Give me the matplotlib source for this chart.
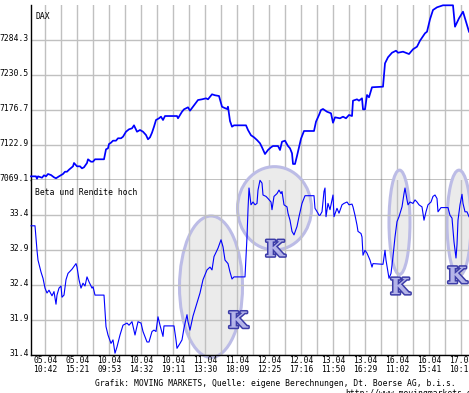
import matplotlib
matplotlib.use("Agg")
import matplotlib.pyplot as plt
import matplotlib.patheffects as pe
from matplotlib.patches import Ellipse
from matplotlib.transforms import ScaledTranslation

# time index (one step per sample) and DAX level
dax_t = [0, 5, 6, 7, 11, 13, 15, 17, 20, 23, 25, 28, 32, 34, 36, 38, 42, 43, 46, 49,
         51, 53, 56, 57, 60, 62, 64, 73, 75, 77, 78, 80, 82, 85, 87, 90, 92, 95, 98, 101,
         103, 106, 109, 112, 115, 117, 119, 121, 123, 125, 128, 130, 132, 134, 146, 147,
         151, 153, 157, 159, 162, 167, 171, 175, 177, 181, 184, 188, 191, 193, 196, 197,
         199, 201, 203, 215, 217, 220, 223, 226, 229, 231, 234, 237, 240, 242, 247, 249,
         251, 254, 257, 259, 261, 262, 264, 266, 268, 270, 273, 283, 285, 287, 288, 290,
         292, 296, 300, 302, 304, 309, 312, 315, 318, 321, 322, 326, 328, 331, 332, 334,
         336, 338, 341, 352, 354, 357, 361, 365, 367, 372, 378, 382, 386, 389, 394, 396,
         399, 402, 406, 412, 422, 424, 428, 432, 433, 438]
dax_v = [7075.2, 7075.2, 7071.6, 7075.2, 7073.1, 7076.8, 7075.2, 7078.8, 7077.2, 7073.7,
         7072.2, 7075.2, 7078.8, 7082.3, 7082.3, 7085.4, 7090.6, 7095.7, 7090.6, 7090.6,
         7087.5, 7089.1, 7095.7, 7101.4, 7097.7, 7097.7, 7101.4, 7101.4, 7116.7, 7118.3,
         7124.9, 7126.9, 7130.0, 7130.0, 7133.7, 7133.7, 7136.1, 7143.8, 7147.5, 7149.0,
         7153.6, 7143.8, 7146.4, 7143.8, 7138.7, 7132.1, 7135.2, 7142.3, 7151.5, 7161.8,
         7164.4, 7166.9, 7161.8, 7167.9, 7167.9, 7164.4, 7174.5, 7178.2, 7181.3, 7176.1,
         7182.2, 7192.5, 7193.6, 7195.1, 7193.6, 7201.3, 7199.8, 7198.7, 7182.2, 7180.7,
         7178.7, 7182.2, 7160.2, 7151.5, 7153.6, 7153.6, 7146.4, 7138.3, 7135.2, 7131.0,
         7126.0, 7119.8, 7109.5, 7115.7, 7119.8, 7121.8, 7121.8, 7115.7, 7128.4, 7130.0,
         7121.8, 7118.3, 7110.6, 7094.2, 7094.2, 7106.5, 7119.8, 7133.0, 7144.9, 7144.9,
         7159.2, 7165.9, 7169.5, 7177.2, 7178.7, 7174.5, 7172.1, 7157.6, 7165.9, 7164.4,
         7166.9, 7164.4, 7169.5, 7167.9, 7191.5, 7193.6, 7191.5, 7195.1, 7178.2, 7178.2,
         7200.2, 7196.7, 7212.1, 7213.0, 7248.9, 7258.2, 7265.2, 7268.3, 7265.2, 7266.8,
         7263.2, 7270.5, 7274.5, 7283.7, 7295.1, 7297.5, 7316.6, 7330.9, 7335.0, 7338.1,
         7338.1, 7305.2, 7318.1, 7328.3, 7323.2, 7297.5]

# Beta und Rendite hoch
beta_t = [0, 4, 6, 7, 10, 12, 14, 16, 18, 21, 23, 25, 26, 28, 30, 31, 33, 35, 37, 41,
          45, 46, 48, 50, 52, 54, 56, 58, 61, 62, 64, 73, 75, 77, 80, 82, 84, 86, 89, 92,
          96, 98, 101, 104, 107, 110, 112, 116, 118, 121, 123, 125, 127, 129, 132, 133,
          143, 145, 146, 149, 151, 153, 156, 157, 159, 162, 166, 169, 172, 176, 179, 181,
          183, 187, 190, 192, 194, 197, 199, 201, 203, 214, 216, 217, 218, 220, 222, 224,
          226, 227, 229, 231, 232, 235, 237, 240, 241, 243, 246, 248, 250, 251, 253, 256,
          257, 259, 261, 263, 266, 268, 271, 274, 283, 284, 287, 288, 289, 291, 293, 294,
          295, 297, 299, 302, 303, 306, 308, 311, 313, 316, 318, 321, 322, 324, 326, 327,
          330, 331, 332, 334, 336, 339, 341, 342, 352, 354, 355, 357, 358, 360, 362, 364,
          366, 368, 371, 373, 374, 376, 377, 379, 382, 384, 386, 388, 391, 393, 395, 397,
          400, 402, 404, 406, 407, 410, 417, 419, 421, 422, 423, 425, 426, 427, 429, 431,
          432, 434, 436, 438]
beta_v = [33.25, 33.25, 32.90, 32.76, 32.59, 32.50, 32.36, 32.29, 32.33, 32.25, 32.31,
          32.13, 32.26, 32.36, 32.39, 32.23, 32.26, 32.48, 32.57, 32.63, 32.71, 32.66,
          32.48, 32.36, 32.43, 32.39, 32.52, 32.45, 32.36, 32.38, 32.26, 32.26, 31.81,
          31.69, 31.57, 31.62, 31.43, 31.52, 31.69, 31.83, 31.86, 31.83, 31.88, 31.69,
          31.88, 31.86, 31.74, 31.59, 31.59, 31.74, 31.76, 31.74, 31.95, 31.83, 31.67,
          31.82, 31.82, 31.62, 31.50, 31.57, 31.62, 31.79, 31.98, 31.88, 31.76, 31.96,
          32.15, 32.29, 32.48, 32.62, 32.66, 32.62, 32.81, 32.93, 33.05, 32.95, 32.76,
          32.71, 32.59, 32.49, 32.52, 32.52, 33.09, 33.48, 33.79, 33.55, 33.59, 33.55,
          33.57, 33.76, 33.90, 33.86, 33.69, 33.67, 33.64, 33.59, 33.48, 33.67, 33.71,
          33.76, 33.71, 33.74, 33.55, 33.52, 33.43, 33.33, 33.17, 33.12, 33.24, 33.38,
          33.57, 33.68, 33.68, 33.50, 33.43, 33.40, 33.40, 33.45, 33.74, 33.79, 33.38,
          33.57, 33.48, 33.69, 33.38, 33.50, 33.43, 33.55, 33.57, 33.59, 33.55, 33.56,
          33.52, 33.40, 33.26, 33.17, 33.14, 33.09, 32.83, 32.90, 32.86, 32.76, 32.66,
          32.71, 32.70, 32.90, 32.76, 32.59, 32.50, 32.57, 32.81, 33.09, 33.31, 33.38,
          33.52, 33.71, 33.79, 33.62, 33.55, 33.59, 33.57, 33.62, 33.59, 33.55, 33.52,
          33.33, 33.45, 33.55, 33.59, 33.67, 33.69, 33.64, 33.45, 33.51, 33.51, 33.40,
          33.36, 33.19, 33.02, 32.79, 32.98, 33.33, 33.55, 33.70, 33.57, 33.45, 33.45,
          33.38]

dax_ticks = [7069.1, 7122.9, 7176.7, 7230.5, 7284.3]
beta_ticks = [31.4, 31.9, 32.4, 32.9, 33.4]
time_labels = ["05.04\n10:42", "05.04\n15:21", "10.04\n09:53", "10.04\n14:32",
               "10.04\n19:11", "11.04\n13:30", "11.04\n18:09", "12.04\n12:25",
               "12.04\n17:16", "13.04\n11:50", "13.04\n16:29", "16.04\n11:02",
               "16.04\n15:41", "17.04\n10:13"]

# "K" marks: centre t, centre value, width, height, letter t, letter value
k_marks = [(180, 32.38, 63, 2.02, 207, 31.88),
           (243.5, 33.50, 74, 1.19, 244, 32.90),
           (368.5, 33.30, 21, 1.49, 369, 32.36),
           (428, 33.29, 24, 1.51, 426, 32.52)]

W, H = 469, 393
fig = plt.figure(figsize=(W / 100, H / 100), dpi=100)
fig.patch.set_facecolor("white")
mono = "DejaVu Sans Mono"
grid_c = "#c0c0c0"

ax1 = fig.add_axes([31 / W, (H - 180.3) / H, 438 / W, 175 / H])
ax2 = fig.add_axes([31 / W, (H - 355.3) / H, 438 / W, 175 / H])

minor = [14.3 + 16 * k for k in range(27)]
major = [14.3 + 32 * k for k in range(14)]

for ax in (ax1, ax2):
    ax.set_xlim(0, 438)
    ax.set_xticks(minor, minor=True)
    ax.set_xticks(major)
    ax.grid(True, which="both", color=grid_c, lw=1.0)
    ax.tick_params(which="both", length=0, pad=1.5, labelsize=5.8)
    ax.spines["top"].set_visible(False)
    ax.spines["right"].set_visible(False)
    for s in ("left", "bottom"):
        ax.spines[s].set_color("black")
        ax.spines[s].set_linewidth(1.0)

ax1.set_ylim(7069.1, 7338.1)
ax1.set_yticks(dax_ticks)
ax1.set_yticklabels(["%.1f" % v for v in dax_ticks], family=mono)
ax1.set_xticklabels([])
ax1.plot(dax_t, dax_v, color="#0000ff", lw=1.25, zorder=3, clip_on=False)
ax1.text(4, 7338.1 - 11.4 / 35 * 53.8, "DAX", family=mono, fontsize=5.8,
         va="center", ha="left")

ax2.set_ylim(31.4, 33.9)
ax2.set_yticks(beta_ticks)
ax2.set_yticklabels(["%.1f" % v for v in beta_ticks], family=mono)
ax2.spines["top"].set_visible(False)
ax2.set_xticklabels(time_labels, family=mono, linespacing=0.95, va="top")
ax2.tick_params(axis="x", pad=0.5)

for (cx, cy, w, h, kx, ky) in k_marks:
    ax2.add_patch(Ellipse((cx, cy), w, h, facecolor="#ebebeb", edgecolor="#bcbce6",
                          lw=2.2, zorder=1, clip_on=False))
ax2.plot(beta_t, beta_v, color="#0000ff", lw=0.8, zorder=3, clip_on=False)
ax2.text(4, 33.9 - 12 / 70, "Beta und Rendite hoch", family=mono, fontsize=5.8,
         va="center", ha="left", zorder=4)
for (cx, cy, w, h, kx, ky) in k_marks:
    t = ax2.text(kx, ky, "K", family="DejaVu Serif", weight="bold", fontsize=16,
                 color="#b4b4e8", ha="center", va="center", zorder=5, clip_on=False)
    t.set_path_effects([pe.Stroke(linewidth=2.2, foreground="#3c3ca8"), pe.Normal()])

# y tick labels sit a little above their grid lines
up = ScaledTranslation(0, 0.03, fig.dpi_scale_trans)
for ax in (ax1, ax2):
    for lab in ax.get_yticklabels():
        lab.set_transform(lab.get_transform() + up)

fig.text(95 / W, 1 - 383.5 / H, "Grafik: MOVING MARKETS, Quelle: eigene Berechnungen, "
         "Dt. Boerse AG, b.i.s.", family=mono, fontsize=5.8, va="center", ha="left")
fig.text(345 / W, 1 - 388.5 / H, "http://www.movingmarkets.de", family=mono,
         fontsize=5.8, va="top", ha="left")

fig.savefig("out.png", dpi=100)
